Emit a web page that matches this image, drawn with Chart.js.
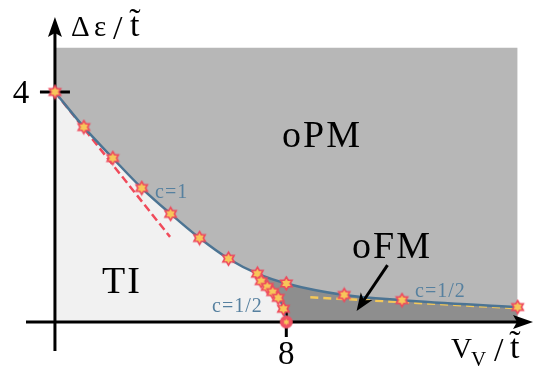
<!DOCTYPE html>
<html>
<head>
<meta charset="utf-8">
<script src="https://cdn.jsdelivr.net/npm/chart.js@4"></script>
<style>
  body { margin: 0; background: #fff; }
  canvas { display: block; }
</style>
</head>
<body>
<canvas id="phaseChart" width="535" height="368"></canvas>
<script>
// phase boundary (upper blue curve)
var boundaryX = [0, 1, 2, 3, 4, 5, 6, 7, 8, 10, 12, 16];
var boundaryY = [4, 3.39, 2.85, 2.33, 1.88, 1.46, 1.10, 0.84, 0.67, 0.47, 0.38, 0.26];

// TI / oFM boundary (steep part near V=8)
var tiX = [7, 7.13, 7.34, 7.53, 7.72, 7.9, 8];
var tiY = [0.84, 0.71, 0.61, 0.52, 0.42, 0.23, 0];

// asymptotic dashed lines
var c1X = [0, 3.98];
var c1Y = [4, 1.48];
var c12X = [8.83, 16];
var c12Y = [0.43, 0.24];

// extent of the shaded window
var regionX = [0, 16];
var regionTop = 4.77;

var xTicks = [8];
var yTicks = [4];

function pts(xs, ys) {
  return xs.map(function(x, i) { return { x: x, y: ys[i] }; });
}

function hexagram(ctx, cx, cy, r) {
  var ri = r / Math.sqrt(3);
  ctx.beginPath();
  for (var i = 0; i < 12; i++) {
    var a = -Math.PI / 2 + i * Math.PI / 6;
    var rr = (i % 2 === 0) ? r : ri;
    var px = cx + rr * Math.cos(a), py = cy + rr * Math.sin(a);
    if (i === 0) ctx.moveTo(px, py); else ctx.lineTo(px, py);
  }
  ctx.closePath();
}

function makeStar(r) {
  var c = document.createElement('canvas');
  c.width = c.height = Math.ceil(2 * r + 4);
  var g = c.getContext('2d');
  hexagram(g, c.width / 2, c.height / 2, r);
  g.fillStyle = '#f7c65a';
  g.fill();
  g.lineWidth = 1.6;
  g.strokeStyle = '#ee4a5c';
  g.lineJoin = 'miter';
  g.stroke();
  return c;
}

function makeDot(r) {
  var c = document.createElement('canvas');
  c.width = c.height = Math.ceil(2 * r + 2);
  var g = c.getContext('2d');
  g.beginPath();
  g.arc(c.width / 2, c.height / 2, r, 0, Math.PI * 2);
  g.fillStyle = '#ef5262';
  g.fill();
  hexagram(g, c.width / 2, c.height / 2, r * 0.5);
  g.fillStyle = '#f7c65a';
  g.fill();
  return c;
}

var starImg = makeStar(6.5);
var dotImg = makeDot(6.5);

var blue = '#4c7493';
var serif = '"Liberation Serif", "DejaVu Serif", serif';

var decor = {
  id: 'decor',
  afterDatasetDraw: function(chart, args) {
    if (args.index !== 6) return;
    var ctx = chart.ctx;
    var xs = chart.scales.x, ys = chart.scales.y;
    var X = function(v) { return xs.getPixelForValue(v); };
    var Y = function(v) { return ys.getPixelForValue(v); };
    var x0 = X(0), y0 = Y(0);
    ctx.save();
    ctx.strokeStyle = '#000';
    ctx.fillStyle = '#000';
    ctx.lineWidth = 3;
    // x axis
    ctx.beginPath();
    ctx.moveTo(26, y0);
    ctx.lineTo(522, y0);
    ctx.stroke();
    ctx.beginPath();
    ctx.moveTo(533, y0);
    ctx.lineTo(513, y0 - 7);
    ctx.lineTo(517, y0);
    ctx.lineTo(513, y0 + 7);
    ctx.closePath();
    ctx.fill();
    // y axis
    ctx.beginPath();
    ctx.moveTo(x0, 351);
    ctx.lineTo(x0, 28);
    ctx.stroke();
    ctx.beginPath();
    ctx.moveTo(x0, 17);
    ctx.lineTo(x0 - 7, 37);
    ctx.lineTo(x0, 33);
    ctx.lineTo(x0 + 7, 37);
    ctx.closePath();
    ctx.fill();
    // ticks
    yTicks.forEach(function(t) {
      ctx.beginPath();
      ctx.moveTo(x0 - 15, Y(t));
      ctx.lineTo(x0 + 15, Y(t));
      ctx.stroke();
    });
    xTicks.forEach(function(t) {
      ctx.beginPath();
      ctx.moveTo(X(t), y0 - 15);
      ctx.lineTo(X(t), y0 + 15);
      ctx.stroke();
    });
    // tick labels
    ctx.font = '33px ' + serif;
    ctx.textAlign = 'center';
    ctx.textBaseline = 'alphabetic';
    yTicks.forEach(function(t) { ctx.fillText(String(t), 21, Y(t) + 11); });
    xTicks.forEach(function(t) { ctx.fillText(String(t), X(t), 364); });
    // axis titles, glyph by glyph to get the wide TeX spacing
    ctx.textAlign = 'left';
    ctx.font = '29px ' + serif;
    ctx.fillText('\u0394', 71, 36);
    ctx.fillText('\u03b5', 94, 36);
    ctx.font = '34px ' + serif;
    ctx.fillText('/', 113, 39);
    ctx.fillText('t\u0303', 130, 36);
    ctx.fillText('/', 494, 361);
    ctx.fillText('t\u0303', 510, 358);
    ctx.font = '29px ' + serif;
    ctx.fillText('V', 451, 358);
    ctx.font = '21px ' + serif;
    ctx.fillText('V', 471, 366);
    // phase labels
    ctx.font = '38px ' + serif;
    ctx.textAlign = 'center';
    ctx.letterSpacing = '2px';
    ctx.fillText('oPM', 322, 147);
    ctx.fillText('oFM', 392, 258);
    ctx.fillText('TI', 122, 293);
    ctx.letterSpacing = '1px';
    ctx.font = '20px ' + serif;
    ctx.fillStyle = '#56809f';
    ctx.textAlign = 'left';
    ctx.fillText('c=1', 155, 198);
    ctx.fillText('c=1/2', 212, 312);
    ctx.fillText('c=1/2', 415, 297);
    ctx.restore();
  },
  afterDraw: function(chart) {
    var ctx = chart.ctx;
    var xs = chart.scales.x, ys = chart.scales.y;
    // arrow pointing at oFM
    var ax = xs.getPixelForValue(11.5), ay = ys.getPixelForValue(0.99);
    var bx = xs.getPixelForValue(10.43), by = ys.getPixelForValue(0.19);
    var ang = Math.atan2(by - ay, bx - ax);
    ctx.save();
    ctx.strokeStyle = '#000';
    ctx.fillStyle = '#000';
    ctx.lineWidth = 3;
    ctx.beginPath();
    ctx.moveTo(ax, ay);
    ctx.lineTo(bx - 10 * Math.cos(ang), by - 10 * Math.sin(ang));
    ctx.stroke();
    ctx.beginPath();
    ctx.moveTo(bx, by);
    ctx.lineTo(bx - 18 * Math.cos(ang) + 7 * Math.sin(ang), by - 18 * Math.sin(ang) - 7 * Math.cos(ang));
    ctx.lineTo(bx - 13 * Math.cos(ang), by - 13 * Math.sin(ang));
    ctx.lineTo(bx - 18 * Math.cos(ang) - 7 * Math.sin(ang), by - 18 * Math.sin(ang) + 7 * Math.cos(ang));
    ctx.closePath();
    ctx.fill();
    ctx.restore();
  }
};

var lineBase = { pointRadius: 0, showLine: true, fill: false, cubicInterpolationMode: 'monotone' };
var fmStart = boundaryX.indexOf(tiX[0]);

new Chart(document.getElementById('phaseChart'), {
  type: 'line',
  data: {
    datasets: [
      // 0 stars
      { data: pts(boundaryX, boundaryY).concat(pts(tiX.slice(1, -1), tiY.slice(1, -1))),
        showLine: false, pointStyle: starImg, pointRadius: 6, order: 0 },
      // 1 end point on the axis
      { data: pts(tiX.slice(-1), tiY.slice(-1)), showLine: false, pointStyle: dotImg, pointRadius: 7, order: 0 },
      // 2 upper boundary
      Object.assign({}, lineBase, { data: pts(boundaryX, boundaryY), borderColor: blue, borderWidth: 2.5, order: 1 }),
      // 3 TI boundary
      Object.assign({}, lineBase, { data: pts(tiX, tiY), borderColor: blue, borderWidth: 2, order: 1 }),
      // 4 c=1 asymptote
      Object.assign({}, lineBase, { data: pts(c1X, c1Y), borderColor: '#f04a5a', borderWidth: 2.5, borderDash: [8, 4], order: 2 }),
      // 5 c=1/2 asymptote
      Object.assign({}, lineBase, { data: pts(c12X, c12Y), borderColor: '#f3c85a', borderWidth: 2.5, borderDash: [8, 5], order: 2 }),
      // 6 oFM region: between upper curve and TI boundary / axis
      Object.assign({}, lineBase, { data: pts(boundaryX.slice(fmStart), boundaryY.slice(fmStart)),
        borderWidth: 0, fill: 7, backgroundColor: '#8e8e8e', order: 3 }),
      // 7 lower edge of oFM (no stroke)
      Object.assign({}, lineBase, { data: pts(tiX, tiY).concat(pts([regionX[1]], [0])), borderWidth: 0, order: 3 }),
      // 8 everything under the curve (TI colour)
      Object.assign({}, lineBase, { data: pts(boundaryX, boundaryY), borderWidth: 0, fill: 'origin', backgroundColor: '#f1f1f1', order: 4 }),
      // 9 oPM region
      Object.assign({}, lineBase, { data: pts(regionX, [regionTop, regionTop]), borderWidth: 0, fill: 'origin',
        backgroundColor: '#b7b7b7', cubicInterpolationMode: 'default', tension: 0, order: 5 })
    ]
  },
  options: {
    responsive: false,
    animation: false,
    layout: { padding: 0, autoPadding: false },
    plugins: { legend: { display: false }, tooltip: { enabled: false } },
    scales: {
      x: { type: 'linear', min: -1.9, max: 16.6, display: false },
      y: { type: 'linear', min: -0.8, max: 5.6, display: false }
    }
  },
  plugins: [decor]
});
</script>
</body>
</html>
